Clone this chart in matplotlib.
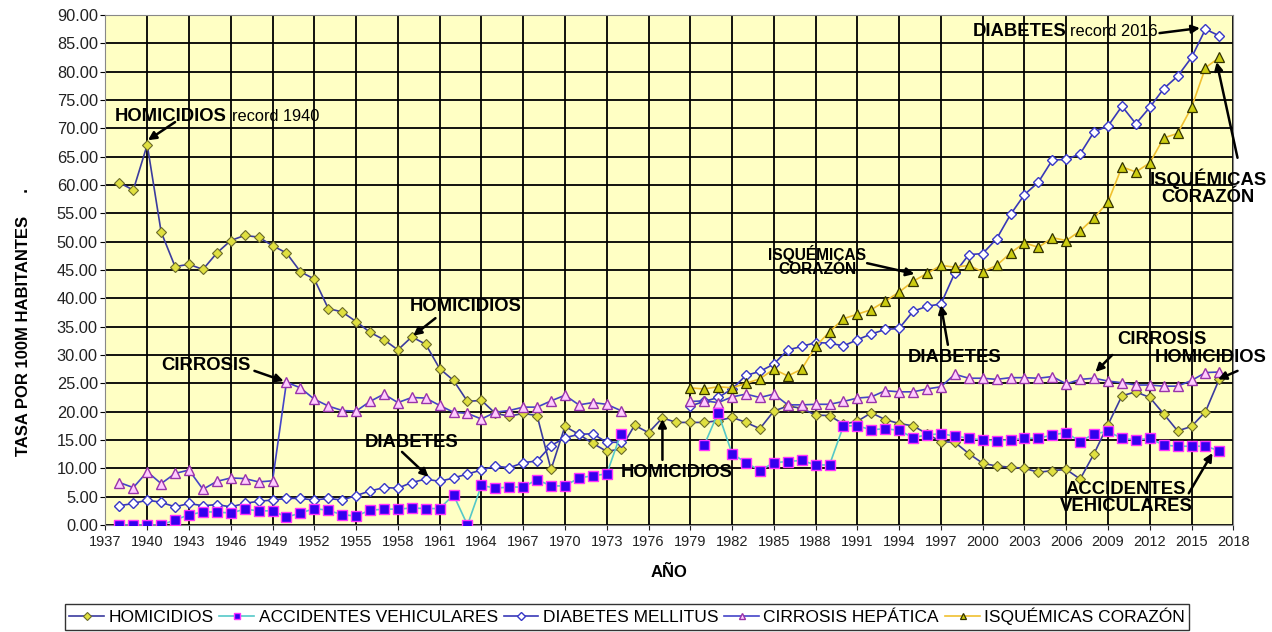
import matplotlib
matplotlib.use('Agg')
import matplotlib.pyplot as plt
import numpy as np

nan = np.nan
years = np.arange(1938, 2018)

# tasas por 100 mil habitantes, 1938-2017 (nan = sin dato)
homicidios = [60.4, 59.1, 67.1, 51.7, 45.6, 46.0, 45.1, 48.0, 50.2, 51.1,
              50.8, 49.3, 48.0, 44.7, 43.4, 38.2, 37.6, 35.9, 34.0, 32.7,
              30.9, 33.2, 31.9, 27.6, 25.5, 21.8, 22.0, 19.7, 19.2, 19.7,
              19.3, 9.8, 17.4, 16.0, 14.4, 13.0, 13.4, 17.6, 16.3, 18.9,
              18.1, 18.1, 18.1, 18.4, 19.0, 18.1, 17.0, 20.1, 21.0, 20.6,
              19.4, 19.3, 17.8, 18.3, 19.8, 18.6, 17.9, 17.5, 16.1, 14.7,
              14.6, 12.6, 10.9, 10.4, 10.2, 10.0, 9.3, 9.6, 9.8, 8.1,
              12.6, 17.7, 22.8, 23.5, 22.5, 19.6, 16.6, 17.4, 20.0, 25.8]

accidentes = [0.0, 0.0, 0.0, 0.0, 0.9, 1.8, 2.3, 2.3, 2.1, 2.8,
              2.5, 2.5, 1.4, 2.1, 2.9, 2.6, 1.8, 1.6, 2.6, 2.8,
              2.8, 3.0, 2.9, 2.9, 5.3, 0.0, 7.0, 6.5, 6.7, 6.7,
              8.0, 6.9, 6.9, 8.3, 8.7, 9.0, 16.0, nan, nan, nan,
              nan, nan, 14.1, 19.8, 12.6, 11.0, 9.6, 11.0, 11.2, 11.4,
              10.6, 10.6, 17.5, 17.5, 16.8, 17.0, 16.7, 15.4, 15.9, 16.1,
              15.7, 15.3, 15.0, 14.9, 15.0, 15.3, 15.3, 15.9, 16.3, 14.7,
              16.1, 16.5, 15.3, 15.0, 15.3, 14.1, 13.9, 13.9, 13.9, 13.1]

diabetes = [3.4, 3.8, 4.4, 4.0, 3.2, 3.8, 3.4, 3.6, 3.2, 3.8,
            4.2, 4.4, 4.7, 4.7, 4.4, 4.7, 4.4, 5.2, 6.0, 6.6,
            6.5, 7.5, 8.1, 7.7, 8.3, 9.0, 9.7, 10.4, 10.1, 11.0,
            11.3, 14.0, 15.4, 16.0, 16.1, 14.6, 14.6, nan, nan, nan,
            nan, 21.0, 21.8, 22.5, 24.0, 26.4, 27.1, 28.4, 30.9, 31.5,
            32.2, 32.1, 31.6, 32.7, 33.7, 34.5, 34.7, 37.7, 38.6, 39.0,
            44.5, 47.7, 47.9, 50.5, 54.8, 58.3, 60.5, 64.4, 64.5, 65.5,
            69.4, 70.4, 73.9, 70.8, 73.7, 77.0, 79.2, 82.5, 87.5, 86.3]

cirrosis = [7.5, 6.6, 9.4, 7.3, 9.1, 9.7, 6.3, 7.7, 8.3, 8.2,
            7.6, 7.8, 25.2, 24.2, 22.2, 21.0, 20.2, 20.1, 21.8, 23.1,
            21.6, 22.5, 22.4, 21.1, 19.9, 19.7, 18.7, 19.9, 20.2, 20.8,
            20.8, 21.9, 22.9, 21.2, 21.6, 21.3, 20.2, nan, nan, nan,
            nan, 21.8, 21.9, 21.6, 22.6, 23.1, 22.5, 23.1, 21.2, 21.2,
            21.3, 21.3, 21.8, 22.4, 22.6, 23.7, 23.5, 23.5, 24.0, 24.4,
            26.6, 25.9, 25.9, 25.7, 26.0, 26.0, 25.9, 26.2, 24.9, 25.7,
            25.9, 25.4, 25.1, 24.7, 24.7, 24.5, 24.5, 25.5, 26.9, 27.0]

# isquemicas del corazon, solo desde 1979
isquemicas = [nan] * 41 + [
    24.2, 24.0, 24.4, 24.2, 25.0, 25.8, 27.5, 26.3, 27.5, 31.5,
    34.1, 36.4, 37.2, 38.0, 39.5, 41.1, 43.0, 44.4, 45.8, 45.5,
    45.8, 44.7, 45.8, 48.0, 49.8, 49.0, 50.7, 50.2, 51.9, 54.2,
    57.0, 63.2, 62.3, 63.9, 68.3, 69.1, 73.7, 80.7, 82.5]

plt.rcParams['font.family'] = ['Liberation Sans', 'DejaVu Sans']

fig = plt.figure(figsize=(12.72, 6.32), dpi=100)
ax = fig.add_axes([0.0829, 0.1693, 0.8867, 0.807])
ax.set_facecolor('#FFFFC4')

ax.plot(years, homicidios, color='#3B3B9E', lw=1.2, marker='D', ms=5.5,
        mfc='#E0E040', mec='#6B6B2A', mew=0.8, label='HOMICIDIOS', zorder=3)
ax.plot(years, accidentes, color='#55C8C8', lw=1.2, marker='s', ms=6.5,
        mfc='#3300EE', mec='#FF33FF', mew=1.0, label='ACCIDENTES VEHICULARES', zorder=4)
ax.plot(years, diabetes, color='#3838B8', lw=1.2, marker='D', ms=5.5,
        mfc='white', mec='#3838C8', mew=1.0, label='DIABETES MELLITUS', zorder=3)
ax.plot(years, cirrosis, color='#4444C8', lw=1.2, marker='^', ms=7,
        mfc='#FFCCFF', mec='#9933AA', mew=1.0, label='CIRROSIS HEPÁTICA', zorder=3)
ax.plot(years, isquemicas, color='#F0C030', lw=1.2, marker='^', ms=7,
        mfc='#CCCC10', mec='#333300', mew=0.9, label='ISQUÉMICAS CORAZÓN', zorder=3)

ax.set_xlim(1937, 2018)
ax.set_ylim(0, 90)
ax.set_xticks(range(1937, 2019, 3))
ax.set_yticks(np.arange(0, 90.1, 5))
ax.set_yticklabels(['%.2f' % v for v in np.arange(0, 90.1, 5)], fontsize=11.8, color='#222222')
ax.tick_params(axis='x', labelsize=10.5, colors='#222222')
ax.tick_params(axis='y', pad=2)
ax.grid(True, color='black', lw=1.3, zorder=1)
ax.set_axisbelow(True)
for s in ax.spines.values():
    s.set_color('#888888')

ax.set_ylabel('TASA POR 100M HABITANTES     .', fontsize=12, fontweight='bold')
ax.yaxis.set_label_coords(-0.066, 0.398)
ax.set_xlabel('AÑO', fontsize=12, fontweight='bold', labelpad=12)

arrow = dict(arrowstyle='-|>', color='black', lw=1.8, mutation_scale=12, shrinkA=0, shrinkB=0)
big = dict(fontsize=13.3, fontweight='bold', ha='center', va='center', zorder=6)

# textos con flecha
ax.text(1937.7, 72.0, 'HOMICIDIOS', fontsize=13.3, fontweight='bold', va='center', zorder=6)
ax.text(1946.1, 72.0, 'record 1940', fontsize=11.8, va='center', zorder=6)
ax.annotate('', xy=(1940.05, 67.9), xytext=(1942.0, 71.1), arrowprops=arrow)

ax.text(1999.3, 87.0, 'DIABETES', fontsize=13.3, fontweight='bold', va='center', zorder=6)
ax.text(2006.3, 87.0, 'record 2016', fontsize=11.8, va='center', zorder=6)
ax.annotate('', xy=(2015.6, 87.7), xytext=(2012.7, 86.8), arrowprops=arrow)

ax.text(2016.2, 59.6, 'ISQUÉMICAS\nCORAZÓN', linespacing=1.05, **big)
ax.annotate('', xy=(2016.8, 81.7), xytext=(2018.3, 64.8), arrowprops=arrow, annotation_clip=False)

ax.text(1988.1, 46.6, 'ISQUÉMICAS\nCORAZÓN', fontsize=11.2, fontweight='bold',
        ha='center', va='center', linespacing=0.95, zorder=6)
ax.annotate('', xy=(1995.1, 44.3), xytext=(1991.7, 46.2), arrowprops=arrow)

ax.text(1962.9, 38.5, 'HOMICIDIOS', **big)
ax.annotate('', xy=(1959.1, 33.4), xytext=(1960.7, 36.5), arrowprops=arrow)

ax.text(1944.2, 28.2, 'CIRROSIS', **big)
ax.annotate('', xy=(1949.8, 25.4), xytext=(1947.7, 27.2), arrowprops=arrow)

ax.text(1959.0, 14.5, 'DIABETES', **big)
ax.annotate('', xy=(1960.2, 8.5), xytext=(1958.3, 12.9), arrowprops=arrow)

ax.text(1978.0, 9.35, 'HOMICIDIOS', **big)
ax.annotate('', xy=(1977.0, 18.7), xytext=(1977.0, 11.5), arrowprops=arrow)

ax.text(1998.0, 29.6, 'DIABETES', **big)
ax.annotate('', xy=(1997.0, 38.8), xytext=(1997.5, 31.8), arrowprops=arrow)

ax.text(2012.9, 32.8, 'CIRROSIS', **big)
ax.annotate('', xy=(2008.1, 27.0), xytext=(2009.3, 30.0), arrowprops=arrow)

ax.text(2016.4, 29.5, 'HOMICIDIOS', **big)
ax.annotate('', xy=(2016.9, 25.7), xytext=(2018.3, 27.2), arrowprops=arrow, annotation_clip=False)

ax.text(2010.3, 4.7, 'ACCIDENTES\nVEHICULARES', linespacing=1.0, **big)
ax.annotate('', xy=(2016.5, 12.7), xytext=(2014.8, 5.6), arrowprops=arrow)

leg = ax.legend(loc='upper center', bbox_to_anchor=(0.493, 0.045), bbox_transform=fig.transFigure,
                ncol=5, fontsize=12.5, frameon=True, fancybox=False, edgecolor='black',
                handlelength=2.0, handletextpad=0.25, columnspacing=0.35, borderpad=0.25,
                borderaxespad=0, markerscale=0.7)
leg.get_frame().set_linewidth(1.0)

fig.savefig('out.png', dpi=100)
